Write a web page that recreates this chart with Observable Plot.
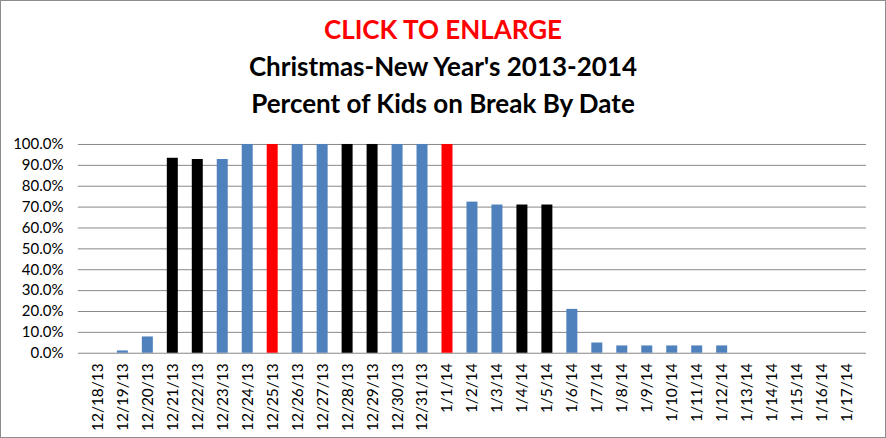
<!DOCTYPE html>
<html>
<head>
<meta charset="utf-8">
<script src="https://cdn.jsdelivr.net/npm/d3@7"></script>
<script src="https://cdn.jsdelivr.net/npm/@observablehq/plot@0.6"></script>
<style>
  html, body { margin: 0; padding: 0; background: #fff; }
  #frame { position: relative; width: 886px; height: 438px; box-sizing: border-box; border: 1px solid #8c8c8c; background: #fff; overflow: hidden; font-family: Lato, "Open Sans", sans-serif; }
  .t { position: absolute; left: 0; width: 884px; text-align: center; font-weight: bold; font-size: 26px; line-height: 1; white-space: nowrap; }
  #t1 { top: 15px; color: #ff0000; }
  #t2 { top: 52px; color: #000; }
  #t3 { top: 89px; color: #000; }
  #chart { position: absolute; left: -1px; top: 124px; }
</style>
</head>
<body>
<div id="frame">
  <div class="t" id="t1">CLICK TO ENLARGE</div>
  <div class="t" id="t2">Christmas-New Year's 2013-2014</div>
  <div class="t" id="t3">Percent of Kids on Break By Date</div>
  <div id="chart"></div>
</div>
<script>
const dates = ["12/18/13","12/19/13","12/20/13","12/21/13","12/22/13","12/23/13","12/24/13","12/25/13","12/26/13","12/27/13","12/28/13","12/29/13","12/30/13","12/31/13","1/1/14","1/2/14","1/3/14","1/4/14","1/5/14","1/6/14","1/7/14","1/8/14","1/9/14","1/10/14","1/11/14","1/12/14","1/13/14","1/14/14","1/15/14","1/16/14","1/17/14"];
const values = [0, 0.011, 0.078, 0.934, 0.928, 0.928, 1, 1, 1, 1, 1, 1, 1, 1, 1, 0.724, 0.71, 0.71, 0.71, 0.21, 0.049, 0.035, 0.035, 0.035, 0.035, 0.035, 0, 0, 0, 0, 0];
const kinds = ["weekday","weekday","weekday","weekend","weekend","weekday","weekday","holiday","weekday","weekday","weekend","weekend","weekday","weekday","holiday","weekday","weekday","weekend","weekend","weekday","weekday","weekday","weekday","weekday","weekday","weekday","weekday","weekday","weekday","weekday","weekday"];
const kindDomain = ["weekday","weekend","holiday"];
const kindColors = ["#4f81bd","#000000","#ff0000"];
const yTicks = [0,0.1,0.2,0.3,0.4,0.5,0.6,0.7,0.8,0.9,1.0];

const data = dates.map((d, i) => ({date: d, value: values[i], kind: kinds[i]}));

const chart = Plot.plot({
  width: 886,
  height: 314,
  marginLeft: 78,
  marginRight: 19,
  marginTop: 19,
  marginBottom: 86,
  style: {fontFamily: "Lato, 'Open Sans', sans-serif", fontSize: "15px", color: "#000", background: "transparent"},
  x: {domain: dates, paddingInner: 0.58, paddingOuter: 0.29, label: null},
  y: {domain: [0, 1], label: null},
  color: {domain: kindDomain, range: kindColors},
  marks: [
    Plot.gridY(yTicks, {stroke: "#888", strokeOpacity: 1, strokeWidth: 1}),
    Plot.barY(data, {x: "date", y: "value", fill: "kind"}),
    Plot.axisY(yTicks, {tickSize: 0, tickPadding: 15, tickFormat: d3.format(".1%"), fontSize: 15, label: null}),
    Plot.axisX({tickSize: 0, tickPadding: 10, tickRotate: -90, fontSize: 15.5, label: null})
  ]
});
document.getElementById("chart").appendChild(chart);
</script>
</body>
</html>
